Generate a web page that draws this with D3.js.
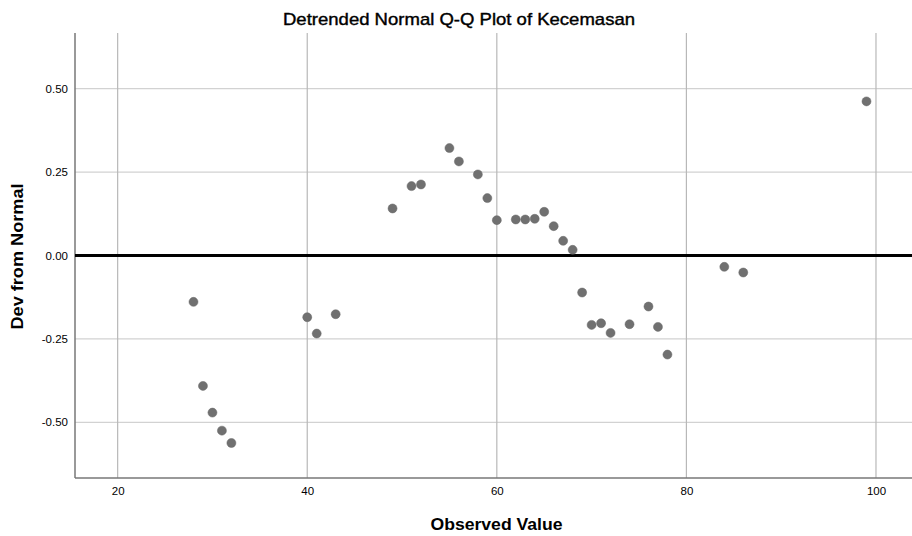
<!DOCTYPE html>
<html>
<head>
<meta charset="utf-8">
<script src="https://cdn.jsdelivr.net/npm/d3@7/dist/d3.min.js"></script>
<style>
  html, body { margin: 0; padding: 0; background: #fff; }
  svg { display: block; }
  text { font-family: "Liberation Sans", Arial, sans-serif; }
</style>
</head>
<body>
<svg id="chart" width="912" height="536"></svg>
<script>
const observed = [28, 29, 30, 31, 32, 40, 41, 43, 49, 51, 52, 55, 56, 58, 59, 60, 62, 63, 64, 65, 66, 67, 68, 69, 70, 71, 72, 74, 76, 77, 78, 84, 86, 99];
const devFromNormal = [-0.139, -0.391, -0.471, -0.525, -0.562, -0.185, -0.234, -0.176, 0.141, 0.208, 0.213, 0.322, 0.282, 0.243, 0.172, 0.106, 0.108, 0.108, 0.110, 0.131, 0.088, 0.044, 0.017, -0.111, -0.208, -0.203, -0.232, -0.206, -0.153, -0.214, -0.297, -0.034, -0.051, 0.462];
const xTicks = [20, 40, 60, 80, 100];
const yTicks = [0.50, 0.25, 0.00, -0.25, -0.50];
const titleText = "Detrended Normal Q-Q Plot of Kecemasan";
const xLabel = "Observed Value";
const yLabel = "Dev from Normal";

(function () {
const W = 912, H = 536;
const pL = 75, pR = 912, pT = 33, pB = 478;

const x = d3.scaleLinear().domain([15.5, 103.8]).range([pL, pR]);
const y = d3.scaleLinear().domain([-0.667, 0.667]).range([pB, pT]);

const svg = d3.select("#chart");

// gridlines
svg.append("g").selectAll("line").data(yTicks).join("line")
  .attr("x1", pL).attr("x2", pR)
  .attr("y1", d => y(d)).attr("y2", d => y(d))
  .attr("stroke", "#d2d2d2").attr("stroke-width", 1.2);
svg.append("g").selectAll("line").data(xTicks).join("line")
  .attr("x1", d => x(d)).attr("x2", d => x(d))
  .attr("y1", pT).attr("y2", pB)
  .attr("stroke", "#b8b8b8").attr("stroke-width", 1.2);

// axes (labels only, no tick marks)
const xAxis = d3.axisBottom(x).tickValues(xTicks).tickSize(0).tickPadding(9).tickFormat(d3.format("d"));
const gx = svg.append("g").attr("transform", `translate(0,${pB})`).call(xAxis);
gx.select(".domain").remove();
gx.selectAll("text").attr("font-size", 11.5).attr("fill", "#000").attr("font-family", "Liberation Sans, Arial, sans-serif");

const fmtY = d => d.toFixed(2);
const yAxis = d3.axisLeft(y).tickValues(yTicks).tickSize(0).tickPadding(7).tickFormat(fmtY);
const gy = svg.append("g").attr("transform", `translate(${pL},0)`).call(yAxis);
gy.select(".domain").remove();
gy.selectAll("text").attr("font-size", 11.5).attr("fill", "#000").attr("font-family", "Liberation Sans, Arial, sans-serif");

// axis lines
svg.append("line").attr("x1", pL).attr("x2", pL).attr("y1", pT).attr("y2", pB)
  .attr("stroke", "#777").attr("stroke-width", 1.5);
svg.append("line").attr("x1", pL).attr("x2", pR).attr("y1", pB).attr("y2", pB)
  .attr("stroke", "#777").attr("stroke-width", 1.5);

// zero reference line
svg.append("line").attr("x1", pL).attr("x2", pR).attr("y1", y(0)).attr("y2", y(0))
  .attr("stroke", "#000").attr("stroke-width", 3);

// points
svg.append("g").selectAll("circle").data(observed.map((v, i) => [v, devFromNormal[i]])).join("circle")
  .attr("cx", d => x(d[0])).attr("cy", d => y(d[1])).attr("r", 4.5)
  .attr("fill", "#707070").attr("stroke", "#666").attr("stroke-width", 0.5);

// title and axis labels
svg.append("text").attr("x", 459).attr("y", 25).attr("text-anchor", "middle")
  .attr("font-size", 17).attr("textLength", 352).attr("lengthAdjust", "spacingAndGlyphs")
  .attr("fill", "#000").attr("stroke", "#000").attr("stroke-width", 0.4).text(titleText);
svg.append("text").attr("x", 496.5).attr("y", 530).attr("text-anchor", "middle")
  .attr("font-size", 16).attr("font-weight", "bold")
  .attr("textLength", 132).attr("lengthAdjust", "spacingAndGlyphs").text(xLabel);
svg.append("text").attr("transform", `translate(23,256.5) rotate(-90)`)
  .attr("text-anchor", "middle").attr("font-size", 16).attr("font-weight", "bold")
  .attr("textLength", 146).attr("lengthAdjust", "spacingAndGlyphs").text(yLabel);
})();
</script>
</body>
</html>
